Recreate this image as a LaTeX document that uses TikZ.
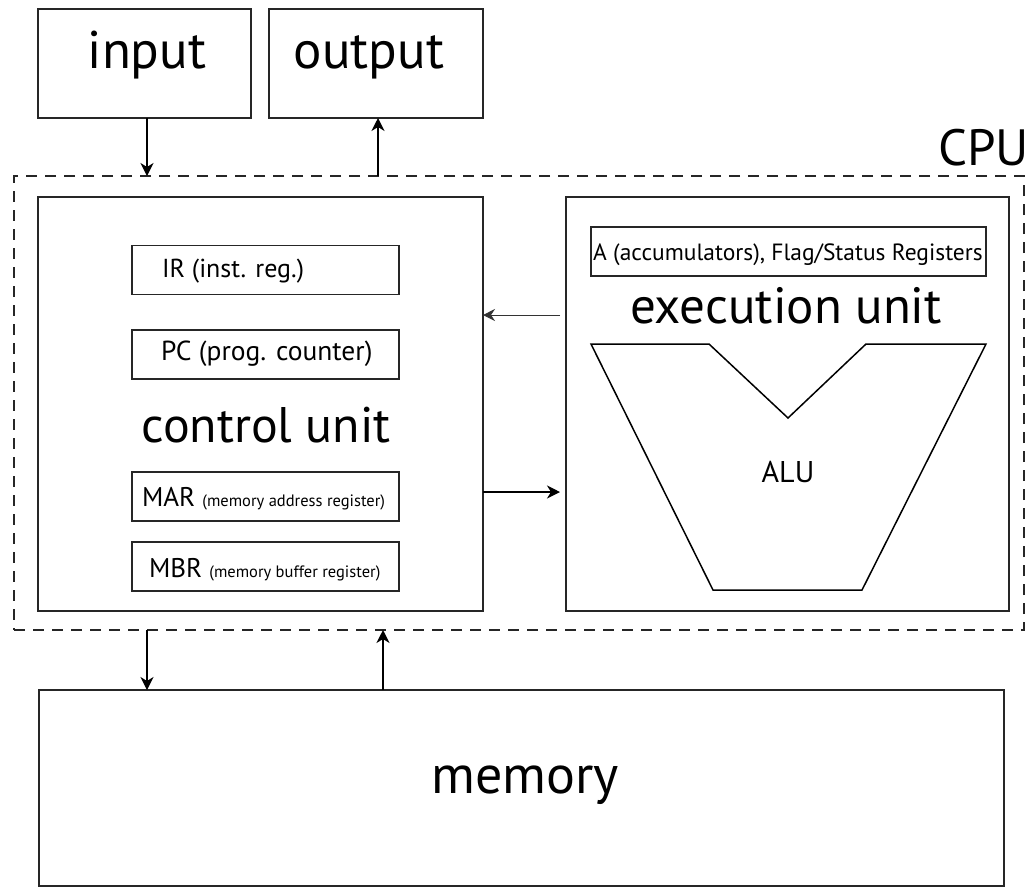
\documentclass[tikz,border=0pt]{standalone}
\usepackage{fontspec}
\setmainfont{PT Sans}
\usetikzlibrary{arrows.meta,calc}
\newcommand{\fsz}[1]{\fontsize{#1}{#1}\selectfont}
\begin{document}
\begin{tikzpicture}[x=1pt,y=-1pt,
  box/.style={draw=black!85,line width=1.8pt,inner sep=0pt,outer sep=0pt,minimum width=#1},
  reg/.style={draw=black!85,line width=1.6pt,inner sep=0pt,outer sep=0pt,minimum width=267pt,minimum height=49pt},
  txt/.style={inner sep=0pt,outer sep=0pt,anchor=base},
  arr/.style={line width=1.4pt,-{Stealth[length=13pt,width=13pt,inset=4pt]}},
  thinarr/.style={line width=1pt,draw=black!80,-{Stealth[length=12pt,width=12pt,inset=4pt]}}
]
\useasboundingbox (0,0) rectangle (1031,887);
% top boxes
\node[box=213pt,minimum height=109pt] (input) at (144.5,63.5) {};
\node[box=214pt,minimum height=109pt] (output) at (376,63.5) {};
\node[txt] (inputtxt) at (147,68) {\fsz{53}input};
\node[txt] (outputtxt) at (369,68) {\fsz{53}output};
% CPU dashed box
\node[draw=black!85,line width=1.5pt,dash pattern=on 11pt off 8pt,inner sep=0pt,outer sep=0pt,
      minimum width=1010pt,minimum height=454pt] (cpu) at (519,403) {};
\node[txt,anchor=base east] (cputxt) at (1029,165) {\fsz{51}CPU};
% control unit
\node[box=445pt,minimum height=414pt] (control) at (260.5,404) {};
\node[reg] (ir) at (265.5,270) {};
\node[reg] (pc) at (265.5,354.5) {};
\node[reg] (mar) at (265.5,496.5) {};
\node[reg] (mbr) at (265.5,566.5) {};
\node[txt,anchor=base west] (irtxt) at (162,277) {\fsz{26}IR (inst. reg.)};
\node[txt,anchor=base west] (pctxt) at (161,360) {\fsz{27.5}PC (prog. counter)};
\node[txt,anchor=base west] (martxt) at (142,506) {\fsz{27}MAR {\fsz{16.5}(memory address register)}};
\node[txt,anchor=base west] (mbrtxt) at (149,577) {\fsz{27}MBR {\fsz{16.5}(memory buffer register)}};
\node[txt] (cutxt) at (266,442) {\fsz{50}control unit};
% execution unit
\node[box=443pt,minimum height=414pt] (exec) at (787.5,404) {};
\node[draw=black!85,line width=1.6pt,inner sep=0pt,outer sep=0pt,minimum width=395pt,minimum height=49pt] (areg) at (788.5,251.5) {};
\node[txt] (aregtxt) at (788,260) {\fsz{23.5}A (accumulators), Flag/Status Registers};
\node[txt] (eutxt) at (786,323) {\fsz{51}execution unit};
\draw[line width=1.5pt,line join=miter] (591,344) -- (709,344) -- (788,418) -- (866,344) -- (986,344) -- (862,590) -- (713,590) -- cycle;
\node[txt] (alu) at (788,482) {\fsz{30}ALU};
% memory
\node[box=965pt,minimum height=196pt] (memory) at (521.5,788) {};
\node[txt] (memtxt) at (525,793) {\fsz{54}memory};
% connectors
\coordinate (ein) at (560,315);
\coordinate (eout) at (560,492);
\draw[arr] (input.south) ++(2.5,0) coordinate (a1) -- (a1 |- cpu.north);
\draw[arr] (cpu.north -| output.south) ++(2,0) coordinate (a2) -- (a2 |- output.south);
\draw[thinarr] (ein) -- (ein -| control.east);
\draw[arr] (eout -| control.east) -- (eout);
\draw[arr] (cpu.south -| input.south) ++(2.5,0) coordinate (a3) -- (a3 |- memory.north);
\draw[arr] (memory.north) ++(-138.5,0) coordinate (a4) -- (a4 |- cpu.south);
\end{tikzpicture}
\end{document}
